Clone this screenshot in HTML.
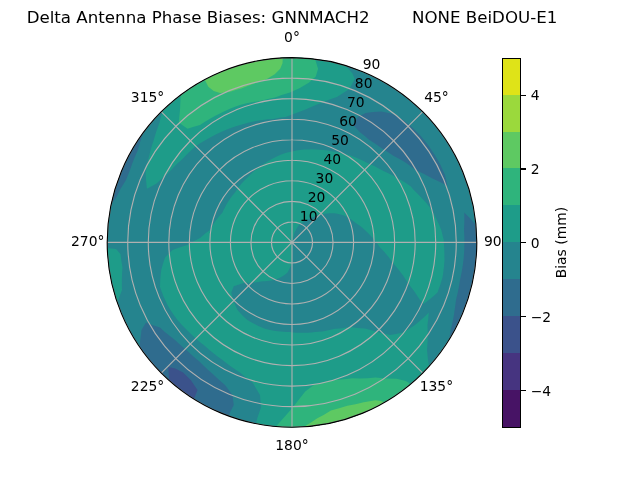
<!DOCTYPE html>
<html><head><meta charset="utf-8"><title>Delta Antenna Phase Biases</title>
<style>html,body{margin:0;padding:0;background:#fff;overflow:hidden}svg{display:block}</style></head>
<body>
<svg width="640" height="480" viewBox="0 0 460.8 345.6" version="1.1">
 <defs>
  <style type="text/css">*{stroke-linejoin: round; stroke-linecap: butt}</style>
 </defs>
 <g id="figure_1">
  <g id="patch_1">
   <path d="M 0 345.6 
L 460.8 345.6 
L 460.8 0 
L 0 0 
z
" style="fill: #ffffff"/>
  </g>
  <g id="axes_1">
   <g id="patch_2">
    <path d="M 343.296 174.528 
C 343.296 157.055246 339.854248 139.752393 333.167715 123.609673 
C 326.481182 107.466954 316.679903 92.798303 304.3248 80.4432 
C 291.969697 68.088097 277.301046 58.286818 261.158327 51.600285 
C 245.015607 44.913752 227.712754 41.472 210.24 41.472 
C 192.767246 41.472 175.464393 44.913752 159.321673 51.600285 
C 143.178954 58.286818 128.510303 68.088097 116.1552 80.4432 
C 103.800097 92.798303 93.998818 107.466954 87.312285 123.609673 
C 80.625752 139.752393 77.184 157.055246 77.184 174.528 
C 77.184 192.000754 80.625752 209.303607 87.312285 225.446327 
C 93.998818 241.589046 103.800097 256.257697 116.1552 268.6128 
C 128.510303 280.967903 143.178954 290.769182 159.321673 297.455715 
C 175.464393 304.142248 192.767246 307.584 210.24 307.584 
C 227.712754 307.584 245.015607 304.142248 261.158327 297.455715 
C 277.301046 290.769182 291.969697 280.967903 304.3248 268.6128 
C 316.679903 256.257697 326.481182 241.589046 333.167715 225.446327 
C 339.854248 209.303607 343.296 192.000754 343.296 174.528 
M 210.24 174.528 
C 210.24 174.528 210.24 174.528 210.24 174.528 
C 210.24 174.528 210.24 174.528 210.24 174.528 
C 210.24 174.528 210.24 174.528 210.24 174.528 
C 210.24 174.528 210.24 174.528 210.24 174.528 
C 210.24 174.528 210.24 174.528 210.24 174.528 
C 210.24 174.528 210.24 174.528 210.24 174.528 
C 210.24 174.528 210.24 174.528 210.24 174.528 
C 210.24 174.528 210.24 174.528 210.24 174.528 
C 210.24 174.528 210.24 174.528 210.24 174.528 
C 210.24 174.528 210.24 174.528 210.24 174.528 
C 210.24 174.528 210.24 174.528 210.24 174.528 
C 210.24 174.528 210.24 174.528 210.24 174.528 
C 210.24 174.528 210.24 174.528 210.24 174.528 
C 210.24 174.528 210.24 174.528 210.24 174.528 
C 210.24 174.528 210.24 174.528 210.24 174.528 
C 210.24 174.528 210.24 174.528 210.24 174.528 
z
" style="fill: #ffffff"/>
   </g>
   <g id="patch_3">
    <path d="M 210.24 34.08 
L 215.141565 34.165557 
L 220.037157 34.422124 
L 224.920814 34.849389 
L 229.786584 35.44683 
L 234.628539 36.213721 
L 239.440781 37.149126 
L 244.217446 38.251906 
L 248.952715 39.520717 
L 253.640819 40.954014 
L 258.276045 42.550051 
L 262.852747 44.306882 
L 267.365348 46.222368 
L 271.808351 48.294174 
L 276.176342 50.519776 
L 280.464 52.896464 
L 284.666101 55.421341 
L 288.777525 58.091331 
L 292.793263 60.903181 
L 296.708423 63.853466 
L 300.518234 66.93859 
L 304.218055 70.154796 
L 307.803379 73.498164 
L 311.269836 76.964621 
L 314.613204 80.549945 
L 317.82941 84.249766 
L 320.914534 88.059577 
L 323.864819 91.974737 
L 326.676669 95.990475 
L 329.346659 100.101899 
L 331.871536 104.304 
L 334.248224 108.591658 
L 336.473826 112.959649 
L 338.545632 117.402652 
L 340.461118 121.915253 
L 342.217949 126.491955 
L 343.813986 131.127181 
L 345.247283 135.815285 
L 346.516094 140.550554 
L 347.618874 145.327219 
L 348.554279 150.139461 
L 349.32117 154.981416 
L 349.918611 159.847186 
L 350.345876 164.730843 
L 350.602443 169.626435 
L 350.688 174.528 
L 350.602443 179.429565 
L 350.345876 184.325157 
L 349.918611 189.208814 
L 349.32117 194.074584 
L 348.554279 198.916539 
L 347.618874 203.728781 
L 346.516094 208.505446 
L 345.247283 213.240715 
L 343.813986 217.928819 
L 342.217949 222.564045 
L 340.461118 227.140747 
L 338.545632 231.653348 
L 336.473826 236.096351 
L 334.248224 240.464342 
L 331.871536 244.752 
L 329.346659 248.954101 
L 326.676669 253.065525 
L 323.864819 257.081263 
L 320.914534 260.996423 
L 317.82941 264.806234 
L 314.613204 268.506055 
L 311.269836 272.091379 
L 307.803379 275.557836 
L 304.218055 278.901204 
L 300.518234 282.11741 
L 296.708423 285.202534 
L 292.793263 288.152819 
L 288.777525 290.964669 
L 284.666101 293.634659 
L 280.464 296.159536 
L 276.176342 298.536224 
L 271.808351 300.761826 
L 267.365348 302.833632 
L 262.852747 304.749118 
L 258.276045 306.505949 
L 253.640819 308.101986 
L 248.952715 309.535283 
L 244.217446 310.804094 
L 239.440781 311.906874 
L 234.628539 312.842279 
L 229.786584 313.60917 
L 224.920814 314.206611 
L 220.037157 314.633876 
L 215.141565 314.890443 
L 210.24 314.976 
L 205.338435 314.890443 
L 200.442843 314.633876 
L 195.559186 314.206611 
L 190.693416 313.60917 
L 185.851461 312.842279 
L 181.039219 311.906874 
L 176.262554 310.804094 
L 171.527285 309.535283 
L 166.839181 308.101986 
L 162.203955 306.505949 
L 157.627253 304.749118 
L 153.114652 302.833632 
L 148.671649 300.761826 
L 144.303658 298.536224 
L 140.016 296.159536 
L 135.813899 293.634659 
L 131.702475 290.964669 
L 127.686737 288.152819 
L 123.771577 285.202534 
L 119.961766 282.11741 
L 116.261945 278.901204 
L 112.676621 275.557836 
L 109.210164 272.091379 
L 105.866796 268.506055 
L 102.65059 264.806234 
L 99.565466 260.996423 
L 96.615181 257.081263 
L 93.803331 253.065525 
L 91.133341 248.954101 
L 88.608464 244.752 
L 86.231776 240.464342 
L 84.006174 236.096351 
L 81.934368 231.653348 
L 80.018882 227.140747 
L 78.262051 222.564045 
L 76.666014 217.928819 
L 75.232717 213.240715 
L 73.963906 208.505446 
L 72.861126 203.728781 
L 71.925721 198.916539 
L 71.15883 194.074584 
L 70.561389 189.208814 
L 70.134124 184.325157 
L 69.877557 179.429565 
L 69.792 174.528 
L 69.877557 169.626435 
L 70.134124 164.730843 
L 70.561389 159.847186 
L 71.15883 154.981416 
L 71.925721 150.139461 
L 72.861126 145.327219 
L 73.963906 140.550554 
L 75.232717 135.815285 
L 76.666014 131.127181 
L 78.262051 126.491955 
L 80.018882 121.915253 
L 81.934368 117.402652 
L 84.006174 112.959649 
L 86.231776 108.591658 
L 88.608464 104.304 
L 91.133341 100.101899 
L 93.803331 95.990475 
L 96.615181 91.974737 
L 99.565466 88.059577 
L 102.65059 84.249766 
L 105.866796 80.549945 
L 109.210164 76.964621 
L 112.676621 73.498164 
L 116.261945 70.154796 
L 119.961766 66.93859 
L 123.771577 63.853466 
L 127.686737 60.903181 
L 131.702475 58.091331 
L 135.813899 55.421341 
L 140.016 52.896464 
L 144.303658 50.519776 
L 148.671649 48.294174 
L 153.114652 46.222368 
L 157.627253 44.306882 
L 162.203955 42.550051 
L 166.839181 40.954014 
L 171.527285 39.520717 
L 176.262554 38.251906 
L 181.039219 37.149126 
L 185.851461 36.213721 
L 190.693416 35.44683 
L 195.559186 34.849389 
L 200.442843 34.422124 
L 205.338435 34.165557 
L 210.24 34.08 
z
" clip-path="url(#p4fdef0c23c)" style="fill: #25848e"/>
   </g>
   <g id="patch_4">
    <path d="M 117.022953 79.583378 
L 114.84 88.2 
L 112.578409 94.494669 
L 110.7 100.8 
L 109.252939 105.296912 
L 108 109.8 
L 106.2 117 
L 104.832 124.2 
L 105.12 129.6 
L 105.768 135.9 
L 112.5 132.3 
L 116.050838 129.038696 
L 119.7 126 
L 124.2 121.32 
L 127.731155 117.792029 
L 131.4 114.48 
L 134.284422 111.414324 
L 137.286537 108.484842 
L 140.4 105.696 
L 144.066847 103.226374 
L 147.814012 100.945639 
L 151.632 98.856 
L 155.33031 96.877967 
L 159.08911 95.07747 
L 162.9 93.456 
L 166.62173 92.015007 
L 170.380257 90.742834 
L 174.168 89.64 
L 177.887878 88.565912 
L 181.634215 87.653804 
L 185.4 86.904 
L 189.142072 86.337278 
L 192.888311 85.929489 
L 196.632 85.68 
L 201.107269 84.847033 
L 205.632 84.24 
L 208.970069 82.917479 
L 212.4 81.72 
L 216.154718 80.202837 
L 220.032 78.84 
L 223.660753 77.162379 
L 227.418551 75.624059 
L 231.3 74.232 
L 236.802525 71.849225 
L 242.568 69.768 
L 251.568 64.08 
L 255.456 56.808 
L 253.8 52.848 
L 248.777241 47.175025 
L 250.918199 40.09986 
L 246.098473 38.734736 
L 241.233131 37.542356 
L 236.328362 36.524239 
L 231.390406 35.681678 
L 226.425544 35.015746 
L 221.440092 34.527291 
L 216.440392 34.216932 
L 211.432804 34.085065 
L 206.4237 34.131858 
L 201.419449 34.357252 
L 196.42642 34.760959 
L 191.450963 35.342466 
L 186.499408 36.101034 
L 181.578054 37.035696 
L 176.693162 38.145265 
L 171.850944 39.428329 
L 167.057562 40.883255 
L 162.319114 42.508193 
L 157.641626 44.301076 
L 153.031049 46.259623 
L 148.493249 48.381341 
L 144.033998 50.663534 
L 139.658969 53.103296 
L 135.373727 55.697525 
L 131.183724 58.44292 
L 127.094289 61.335988 
L 123.110626 64.373051 
L 119.237801 67.550243 
L 115.480742 70.863523 
L 111.844228 74.308677 
z
" clip-path="url(#p4fdef0c23c)" style="fill: #1e9c89"/>
   </g>
   <g id="patch_5">
    <path d="M 305.1 218.7 
L 307.8 216.72 
L 311.442996 213.769115 
L 315 210.6 
L 316.936717 205.251936 
L 318.6 199.8 
L 319.241562 195.610072 
L 319.721559 191.408 
L 320.04 187.2 
L 319.896 180 
L 319.5 172.8 
L 317.7 165.6 
L 315.977473 161.488647 
L 314.1 157.5 
L 311.930293 153.373302 
L 309.6 149.4 
L 306.515642 145.690535 
L 303.3 142.2 
L 300.63861 139.425459 
L 297.9 136.8 
L 295.632 134.1 
L 291.135563 131.100155 
L 286.56 128.448 
L 282.873393 126.348186 
L 279.149182 124.476427 
L 275.4 122.832 
L 272.630106 121.230164 
L 269.830887 119.760275 
L 267.008235 118.422311 
L 264.168 117.216 
L 261.391487 115.763619 
L 258.58417 114.439416 
L 255.751777 113.243567 
L 252.9 112.176 
L 250.085874 111.291009 
L 247.266371 110.528634 
L 244.446702 109.887996 
L 241.632 109.368 
L 238.812217 108.8116 
L 235.996962 108.374972 
L 233.191248 108.056909 
L 230.4 107.856 
L 227.476105 107.634889 
L 224.568769 107.54061 
L 221.68344 107.571403 
L 218.825449 107.725272 
L 216 108 
L 213.499339 108.374445 
L 211.034461 108.842092 
L 208.608811 109.400799 
L 206.225724 110.048298 
L 203.888419 110.782199 
L 201.6 111.6 
L 199.330946 112.609946 
L 197.125924 113.700538 
L 194.987751 114.868376 
L 192.919079 116.109968 
L 190.922391 117.421731 
L 189 118.8 
L 187.011899 120.138767 
L 185.096077 121.54691 
L 183.254885 123.020821 
L 181.490501 124.556817 
L 179.804929 126.151148 
L 178.2 127.8 
L 176.727043 129.219764 
L 175.314436 130.684772 
L 173.963519 132.192531 
L 172.675531 133.740511 
L 171.451609 135.326149 
L 170.292788 136.946851 
L 169.2 138.6 
L 167.833766 140.237218 
L 166.532784 141.92632 
L 165.299023 143.664707 
L 164.134347 145.449707 
L 163.040513 147.278576 
L 162.019171 149.148505 
L 161.071859 151.056623 
L 160.2 153 
L 158.748187 154.575146 
L 157.34556 156.228068 
L 155.995877 157.957242 
L 154.702853 159.760972 
L 153.470146 161.637391 
L 152.301353 163.584468 
L 151.2 165.6 
L 147.534676 168.303862 
L 144 171.36 
L 139.455147 173.716968 
L 135 176.4 
L 129.580276 178.095 
L 124.2 180 
L 118.8 185.4 
L 117.341553 189.824021 
L 116.1 194.4 
L 115.626335 198.41516 
L 115.324824 202.497629 
L 115.2 206.64 
L 116.378877 209.948754 
L 117.672911 213.214334 
L 119.080524 216.432732 
L 120.6 219.6 
L 122.848827 223.312024 
L 125.25059 226.914112 
L 127.8 230.4 
L 130.675039 233.665496 
L 133.67739 236.787117 
L 136.8 239.76 
L 139.377927 242.254356 
L 142.039875 244.647651 
L 144.781908 246.937083 
L 147.6 249.12 
L 150.579841 251.823771 
L 153.676341 254.40835 
L 156.884725 256.868706 
L 160.2 259.2 
L 163.185902 261.612893 
L 166.283714 263.920536 
L 169.489724 266.117878 
L 172.8 268.2 
L 175.671622 270.689647 
L 178.672511 273.091656 
L 181.8 275.4 
L 187.2 284.4 
L 187.92 293.4 
L 185.4 300.6 
L 184.298026 305.030541 
L 182.856805 312.280682 
L 187.773304 313.167418 
L 192.71823 313.878738 
L 197.685325 314.413742 
L 202.668305 314.771753 
L 207.660866 314.952317 
L 212.656689 314.955206 
L 217.649455 314.780418 
L 222.632846 314.428172 
L 227.600557 313.898914 
L 232.546302 313.193315 
L 237.463823 312.312267 
L 242.346899 311.256884 
L 247.189351 310.028502 
L 251.985053 308.628676 
L 256.727935 307.059176 
L 261.411997 305.321988 
L 266.031314 303.419311 
L 270.580039 301.353551 
L 275.052417 299.127323 
L 279.442791 296.743443 
L 283.745604 294.204927 
L 287.955413 291.514988 
L 292.066891 288.677028 
L 296.074835 285.69464 
L 299.974176 282.571595 
L 303.759978 279.311846 
L 307.427453 275.919517 
L 310.971959 272.398901 
L 314.389012 268.754451 
L 308.907485 263.795164 
L 308.16 259.2 
L 307.44 252 
L 307.89284 245.893149 
L 308.00971 239.887411 
L 307.8 234 
L 308.349275 229.479215 
L 308.7 225 
L 305.492807 228.173753 
L 302.189945 231.174604 
L 298.8 234 
L 294.334835 236.841713 
L 289.8 239.4 
L 285.282828 240.42043 
L 280.8 241.2 
L 271.8 239.04 
L 262.8 236.52 
L 257.310765 236.175677 
L 252 235.44 
L 248.362726 236.061988 
L 244.759087 236.48048 
L 241.2 236.7 
L 238.800805 237.316453 
L 236.396749 237.841627 
L 233.991266 238.275952 
L 231.587751 238.619981 
L 229.189559 238.874395 
L 226.8 239.04 
L 224.204158 239.347955 
L 221.609639 239.552026 
L 219.020578 239.65279 
L 216.44107 239.650988 
L 213.875156 239.547522 
L 211.326824 239.343454 
L 208.8 239.04 
L 206.533137 239.026177 
L 204.265476 238.93263 
L 201.999823 238.759286 
L 199.738989 238.506172 
L 197.485786 238.173413 
L 195.24302 237.761232 
L 193.013494 237.269954 
L 190.8 236.7 
L 188.598978 235.838883 
L 186.434783 234.90007 
L 184.31015 233.885097 
L 182.22775 232.795595 
L 180.190188 231.633291 
L 178.2 230.4 
L 176.271345 228.692838 
L 174.427112 226.921115 
L 172.669369 225.08882 
L 171 223.2 
L 169.827254 220.693468 
L 168.791927 218.173284 
L 167.893139 215.646416 
L 167.129679 213.119735 
L 166.5 210.6 
L 168.3 206.1 
L 176.4 203.4 
L 178.605927 203.539356 
L 180.776913 203.559074 
L 182.907269 203.461889 
L 184.991456 203.250787 
L 187.024099 202.929002 
L 189 202.5 
L 190.663067 202.485251 
L 192.292581 202.385077 
L 193.884475 202.202074 
L 195.434836 201.939023 
L 196.939906 201.598883 
L 198.396099 201.18478 
L 199.8 200.7 
L 201.165002 200.098724 
L 202.467675 199.432599 
L 203.705105 198.705554 
L 204.87459 197.921642 
L 205.973643 197.085032 
L 207 196.2 
L 208.022705 194.367119 
L 208.904681 192.490863 
L 209.644218 190.57916 
L 210.24 188.64 
L 210.24 183.936 
L 210.24 179.232 
L 210.24 174.528 
L 212.04 167.616 
L 212.844207 165.880074 
L 213.781201 164.197568 
L 214.848 162.576 
L 215.853952 161.625499 
L 216.9479 160.740892 
L 218.12598 159.927892 
L 219.384 159.192 
L 220.686007 158.372257 
L 222.058606 157.628367 
L 223.497951 156.964339 
L 225 156.384 
L 226.852507 155.64444 
L 228.782327 155.022776 
L 230.783047 154.523805 
L 232.848 154.152 
L 235.417711 153.768757 
L 238.061645 153.574876 
L 240.768 153.576 
L 242.936709 153.91674 
L 245.123232 154.396131 
L 247.32 155.016 
L 249.670756 156.078682 
L 252 157.32 
L 253.821865 158.697811 
L 255.6 160.2 
L 257.473397 161.413035 
L 259.315822 162.740423 
L 261.121539 164.181425 
L 262.884829 165.735039 
L 264.6 167.4 
L 266.550575 169.291438 
L 268.433367 171.319857 
L 270.240822 173.482745 
L 271.965481 175.777213 
L 273.6 178.2 
L 276.784306 181.500019 
L 279.791393 185.103247 
L 282.6 189 
L 286.471328 193.424487 
L 290.08017 198.229542 
L 293.4 203.4 
L 298.093103 209.465942 
L 302.4 216 
z
" clip-path="url(#p4fdef0c23c)" style="fill: #1e9c89"/>
   </g>
   <g id="patch_6">
    <path d="M 77.245181 178.562512 
L 83.52 179.28 
L 86.76 182.88 
L 87.383837 187.758174 
L 88.2 192.6 
L 87.842987 197.942044 
L 87.721484 203.345526 
L 87.84 208.8 
L 84.440094 217.867159 
L 85.040115 219.571177 
L 78.084565 222.073576 
L 76.501625 217.419582 
L 75.082525 212.713044 
L 73.829002 207.959725 
L 72.742592 203.165451 
L 71.824627 198.336093 
L 71.076231 193.477569 
L 70.498321 188.59583 
L 70.091605 183.696857 
L 69.85658 178.786652 
z
" clip-path="url(#p4fdef0c23c)" style="fill: #1e9c89"/>
   </g>
   <g id="patch_7">
    <path d="M 130.110175 68.306014 
L 129.6 79.2 
L 128.7 88.2 
L 135 92.7 
L 139.501717 91.237305 
L 144 90 
L 147.560022 87.675516 
L 151.2 85.5 
L 154.73524 83.49946 
L 158.337076 81.638738 
L 162 79.92 
L 165.551184 78.346477 
L 169.152841 76.905949 
L 172.8 75.6 
L 177.574253 74.410953 
L 182.377894 73.450903 
L 187.2 72.72 
L 190.761989 71.754625 
L 194.36345 70.914096 
L 198 70.2 
L 203.314219 68.226798 
L 208.8 66.528 
L 215.568 63.576 
L 222.3 59.616 
L 227.376 55.152 
L 229.032 49.5 
L 226.796723 42.50613 
L 227.716541 35.171582 
L 222.822717 34.644778 
L 217.913439 34.289778 
L 212.994737 34.107018 
L 208.072651 34.096724 
L 203.153228 34.258907 
L 198.242508 34.593369 
L 193.346523 35.099699 
L 188.471288 35.777274 
L 183.622788 36.625264 
L 178.80698 37.642625 
L 174.029777 38.828109 
L 169.297049 40.180259 
L 164.614606 41.697416 
L 159.9882 43.377715 
L 155.423514 45.219093 
L 150.926153 47.219288 
L 146.501642 49.375843 
L 142.155414 51.686111 
L 137.892807 54.147252 
L 133.719057 56.756246 
L 129.639291 59.509887 
L 125.658518 62.404793 
z
" clip-path="url(#p4fdef0c23c)" style="fill: #2fb47c"/>
   </g>
   <g id="patch_8">
    <path d="M 198.654412 307.078644 
L 204.48 300.528 
L 208.903459 295.562557 
L 212.976 290.448 
L 219.744 281.952 
L 226.44 276.912 
L 230.429627 275.938115 
L 234.367626 274.809263 
L 238.248 273.528 
L 242.008038 273.456675 
L 245.797036 273.242266 
L 249.609544 272.882672 
L 253.44 272.376 
L 258.984137 272.518154 
L 264.629709 272.353116 
L 270.36 271.872 
L 277.848544 272.544967 
L 285.552 272.7 
L 292.248 274.392 
L 294.336 275.544 
L 297.217818 279.005636 
L 300.099636 282.467272 
L 296.209806 285.590294 
L 292.211523 288.573211 
L 288.109833 291.412258 
L 283.90991 294.103855 
L 279.617051 296.644606 
L 275.236673 299.031306 
L 270.7743 301.260944 
L 266.235564 303.330708 
L 261.626188 305.237986 
L 256.951989 306.980372 
L 252.218862 308.555668 
L 247.432778 309.961888 
L 242.599775 311.197256 
L 237.72595 312.260216 
L 232.817451 313.149425 
L 227.880471 313.863762 
L 222.921237 314.402325 
L 217.946006 314.764437 
L 212.961053 314.949639 
L 207.972668 314.957697 
L 202.987143 314.788603 
L 198.010768 314.442569 
z
" clip-path="url(#p4fdef0c23c)" style="fill: #2fb47c"/>
   </g>
   <g id="patch_9">
    <path d="M 147.369921 57.262266 
L 149.976 62.424 
L 153.9 65.52 
L 158.4 66.96 
L 165.168 66.168 
L 169.648602 64.77977 
L 174.168 63.576 
L 178.625212 61.794206 
L 183.168 60.192 
L 187.618328 58.41287 
L 192.168 56.808 
L 197.784 53.424 
L 201.744 49.5 
L 203.4 45.576 
L 203.613462 41.637112 
L 203.245322 34.254285 
L 198.080853 34.607323 
L 192.932902 35.150437 
L 187.808461 35.882889 
L 182.714493 36.803684 
L 177.657917 37.911571 
L 172.645603 39.205046 
L 167.684358 40.68235 
L 162.780924 42.341477 
L 157.94196 44.180174 
L 153.174041 46.195942 
L 148.483644 48.386044 
L 143.877139 50.747503 
z
" clip-path="url(#p4fdef0c23c)" style="fill: #5ec962"/>
   </g>
   <g id="patch_10">
    <path d="M 218.875802 307.303457 
L 223.623915 304.430596 
L 228.168 301.392 
L 233.314791 298.541926 
L 238.248 295.488 
L 244.194182 293.94204 
L 250.056 292.104 
L 255.986009 290.99409 
L 261.9 289.584 
L 270.36 288.216 
L 274.536 288.72 
L 276.579444 289.866534 
L 280.264968 296.27423 
L 275.942604 298.660222 
L 271.539048 300.892819 
L 267.059742 302.969261 
L 262.510222 304.886984 
L 257.896109 306.643616 
L 253.223106 308.236987 
L 248.496987 309.665129 
L 243.723592 310.926276 
L 238.90882 312.018871 
L 234.05862 312.941562 
L 229.178987 313.693209 
L 224.27595 314.272885 
L 219.355569 314.679872 
z
" clip-path="url(#p4fdef0c23c)" style="fill: #5ec962"/>
   </g>
   <g id="patch_11">
    <path d="M 254.16 89.784 
L 257.616 84.168 
L 263.232 81.36 
L 268.794727 80.632833 
L 274.5 80.208 
L 282.384 81.9 
L 286.302938 84.067804 
L 290.16 86.4 
L 293.626847 89.139898 
L 297 92.016 
L 302.616 97.632 
L 305.448128 100.963821 
L 308.16 104.4 
L 312.768 111.168 
L 315.073465 115.050106 
L 317.232 119.016 
L 320.4 126 
L 322.2 133.92 
L 316.82358 131.040726 
L 311.4 128.52 
L 305.347427 125.211795 
L 299.232 122.4 
L 295.899364 119.790651 
L 292.5 117.36 
L 288.03095 114.6923 
L 283.5 112.32 
L 280.549473 110.267996 
L 277.54759 108.347667 
L 274.5 106.56 
L 271.569127 104.394587 
L 268.567379 102.353846 
L 265.5 100.44 
L 262.208612 97.558766 
L 258.768 94.824 
z
" clip-path="url(#p4fdef0c23c)" style="fill: #2f6c8e"/>
   </g>
   <g id="patch_12">
    <path d="M 342.705029 162.001416 
L 338.560582 157.349753 
L 334.26 153 
L 334.329984 159.323488 
L 334.08 165.6 
L 334.331533 170.549115 
L 334.385368 175.504082 
L 334.241441 180.457006 
L 333.9 185.4 
L 333.238472 190.840694 
L 332.337807 196.244194 
L 331.2 201.6 
L 330.432538 206.421292 
L 329.47244 211.223863 
L 328.32 216 
L 327.6 221.4 
L 326.823741 226.792382 
L 325.8 232.2 
L 324.36 238.32 
L 323.280833 244.711112 
L 329.560879 248.610174 
L 332.157331 244.254646 
L 334.594864 239.80823 
L 336.870302 235.276722 
L 338.980679 230.666028 
L 340.923244 225.982159 
L 342.695464 221.23122 
L 344.29503 216.419404 
L 345.719856 211.552982 
L 346.968086 206.638299 
L 348.038091 201.681761 
L 348.928479 196.689828 
L 349.638087 191.669007 
L 350.165991 186.625843 
L 350.511503 181.566909 
L 350.674172 176.498801 
L 350.653787 171.428123 
L 350.450373 166.361486 
L 350.064197 161.305494 
z
" clip-path="url(#p4fdef0c23c)" style="fill: #2f6c8e"/>
   </g>
   <g id="patch_13">
    <path d="M 105.12 232.2 
L 101.88 237.6 
L 100.8 246.6 
L 100.682292 250.033017 
L 94.595752 254.227741 
L 97.574983 258.386421 
L 100.70369 262.433844 
L 103.97772 266.364641 
L 107.392731 270.173596 
L 110.944192 273.855656 
L 114.627391 277.405936 
L 118.437441 280.819725 
L 122.369287 284.092495 
L 126.417713 287.219903 
L 130.577349 290.1978 
L 134.842674 293.022236 
L 139.208031 295.689463 
L 143.667627 298.195942 
L 148.215547 300.538348 
L 152.845756 302.713574 
L 157.55211 304.718733 
L 162.328367 306.551165 
L 164.850032 299.602578 
L 165.6 297 
L 168.3 291.6 
L 167.4 284.4 
L 162 277.2 
L 158.876088 274.590006 
L 155.875234 271.888207 
L 153 269.1 
L 149.876309 266.379028 
L 146.875258 263.557249 
L 144 260.64 
L 140.902236 258.11007 
L 137.900905 255.468847 
L 135 252.72 
L 131.914359 250.200461 
L 128.912772 247.55953 
L 126 244.8 
L 122.306124 241.984703 
L 118.703109 238.983775 
L 115.2 235.8 
L 110.159036 234.141188 
z
" clip-path="url(#p4fdef0c23c)" style="fill: #2f6c8e"/>
   </g>
   <g id="patch_14">
    <path d="M 103.389671 95.237986 
L 100.991754 101.963131 
L 99 108.72 
L 97.01835 113.227173 
L 95.217909 117.789585 
L 93.6 122.4 
L 90.72 129.6 
L 86.832 135.9 
L 83.7 142.2 
L 80.090279 146.870284 
L 72.859739 145.333744 
L 73.991027 140.441963 
L 75.29644 135.593743 
L 76.774311 130.795282 
L 78.422751 126.052711 
L 80.239654 121.372091 
L 82.222696 116.759404 
L 84.369345 112.220546 
L 86.676856 107.761316 
L 89.14228 103.387414 
L 91.762467 99.10443 
L 94.534069 94.917836 
L 97.453542 90.832985 
z
" clip-path="url(#p4fdef0c23c)" style="fill: #2f6c8e"/>
   </g>
   <g id="patch_15">
    <path d="M 121.7932 273.931535 
L 121.176 264.24 
L 126.216 265.392 
L 131.832 268.2 
L 137.448 273.816 
L 142.2 280.8 
L 139.687774 287.338827 
L 139.655731 287.31878 
L 135.734383 293.584935 
L 130.802205 290.352338 
L 126.010074 286.915545 
L 121.36644 283.280614 
L 116.879489 279.453953 
z
" clip-path="url(#p4fdef0c23c)" style="fill: #3b528b"/>
   </g>
   <g id="matplotlib.axis_1">
    <g id="xtick_1">
     <g id="line2d_1">
      <path d="M 210.24 174.528 
L 210.24 41.472 
" clip-path="url(#p4fdef0c23c)" style="fill: none; stroke: #b0b0b0; stroke-width: 0.8; stroke-linecap: square"/>
     </g>
     <g id="text_1">
      <text style="font-size: 10px; font-family: 'DejaVu Sans', 'Liberation Sans', sans-serif; white-space: pre; text-anchor: middle" x="210.24" y="30.231375" transform="rotate(0 210.24 30.231375)">0°</text>
     </g>
    </g>
    <g id="xtick_2">
     <g id="line2d_2">
      <path d="M 210.24 174.528 
L 304.3248 80.4432 
" clip-path="url(#p4fdef0c23c)" style="fill: none; stroke: #b0b0b0; stroke-width: 0.8; stroke-linecap: square"/>
     </g>
     <g id="text_2">
      <text style="font-size: 10px; font-family: 'DejaVu Sans', 'Liberation Sans', sans-serif; white-space: pre; text-anchor: middle" x="314.224295" y="73.30308" transform="rotate(0 314.224295 73.30308)">45°</text>
     </g>
    </g>
    <g id="xtick_3">
     <g id="line2d_3">
      <path d="M 210.24 174.528 
L 343.296 174.528 
" clip-path="url(#p4fdef0c23c)" style="fill: none; stroke: #b0b0b0; stroke-width: 0.8; stroke-linecap: square"/>
     </g>
     <g id="text_3">
      <text style="font-size: 10px; font-family: 'DejaVu Sans', 'Liberation Sans', sans-serif; white-space: pre; text-anchor: middle" x="357.296" y="177.287375" transform="rotate(0 357.296 177.287375)">90°</text>
     </g>
    </g>
    <g id="xtick_4">
     <g id="line2d_4">
      <path d="M 210.24 174.528 
L 304.3248 268.6128 
" clip-path="url(#p4fdef0c23c)" style="fill: none; stroke: #b0b0b0; stroke-width: 0.8; stroke-linecap: square"/>
     </g>
     <g id="text_4">
      <text style="font-size: 10px; font-family: 'DejaVu Sans', 'Liberation Sans', sans-serif; white-space: pre; text-anchor: middle" x="314.224295" y="281.27167" transform="rotate(0 314.224295 281.27167)">135°</text>
     </g>
    </g>
    <g id="xtick_5">
     <g id="line2d_5">
      <path d="M 210.24 174.528 
L 210.24 307.584 
" clip-path="url(#p4fdef0c23c)" style="fill: none; stroke: #b0b0b0; stroke-width: 0.8; stroke-linecap: square"/>
     </g>
     <g id="text_5">
      <text style="font-size: 10px; font-family: 'DejaVu Sans', 'Liberation Sans', sans-serif; white-space: pre; text-anchor: middle" x="210.24" y="324.343375" transform="rotate(0 210.24 324.343375)">180°</text>
     </g>
    </g>
    <g id="xtick_6">
     <g id="line2d_6">
      <path d="M 210.24 174.528 
L 116.1552 268.6128 
" clip-path="url(#p4fdef0c23c)" style="fill: none; stroke: #b0b0b0; stroke-width: 0.8; stroke-linecap: square"/>
     </g>
     <g id="text_6">
      <text style="font-size: 10px; font-family: 'DejaVu Sans', 'Liberation Sans', sans-serif; white-space: pre; text-anchor: middle" x="106.255705" y="281.27167" transform="rotate(0 106.255705 281.27167)">225°</text>
     </g>
    </g>
    <g id="xtick_7">
     <g id="line2d_7">
      <path d="M 210.24 174.528 
L 77.184 174.528 
" clip-path="url(#p4fdef0c23c)" style="fill: none; stroke: #b0b0b0; stroke-width: 0.8; stroke-linecap: square"/>
     </g>
     <g id="text_7">
      <text style="font-size: 10px; font-family: 'DejaVu Sans', 'Liberation Sans', sans-serif; white-space: pre; text-anchor: middle" x="63.184" y="177.287375" transform="rotate(0 63.184 177.287375)">270°</text>
     </g>
    </g>
    <g id="xtick_8">
     <g id="line2d_8">
      <path d="M 210.24 174.528 
L 116.1552 80.4432 
" clip-path="url(#p4fdef0c23c)" style="fill: none; stroke: #b0b0b0; stroke-width: 0.8; stroke-linecap: square"/>
     </g>
     <g id="text_8">
      <text style="font-size: 10px; font-family: 'DejaVu Sans', 'Liberation Sans', sans-serif; white-space: pre; text-anchor: middle" x="106.255705" y="73.30308" transform="rotate(0 106.255705 73.30308)">315°</text>
     </g>
    </g>
   </g>
   <g id="matplotlib.axis_2">
    <g id="ytick_1">
     <g id="line2d_9">
      <path d="M 210.24 159.744 
C 212.181417 159.744 214.103956 160.126417 215.897592 160.869365 
C 217.691227 161.612313 219.321077 162.701344 220.693867 164.074133 
C 222.066656 165.446923 223.155687 167.076773 223.898635 168.870408 
C 224.641583 170.664044 225.024 172.586583 225.024 174.528 
C 225.024 176.469417 224.641583 178.391956 223.898635 180.185592 
C 223.155687 181.979227 222.066656 183.609077 220.693867 184.981867 
C 219.321077 186.354656 217.691227 187.443687 215.897592 188.186635 
C 214.103956 188.929583 212.181417 189.312 210.24 189.312 
C 208.298583 189.312 206.376044 188.929583 204.582408 188.186635 
C 202.788773 187.443687 201.158923 186.354656 199.786133 184.981867 
C 198.413344 183.609077 197.324313 181.979227 196.581365 180.185592 
C 195.838417 178.391956 195.456 176.469417 195.456 174.528 
C 195.456 172.586583 195.838417 170.664044 196.581365 168.870408 
C 197.324313 167.076773 198.413344 165.446923 199.786133 164.074133 
C 201.158923 162.701344 202.788773 161.612313 204.582408 160.869365 
C 206.376044 160.126417 208.298583 159.744 210.24 159.744 
" clip-path="url(#p4fdef0c23c)" style="fill: none; stroke: #b0b0b0; stroke-width: 0.8; stroke-linecap: square"/>
     </g>
     <g id="text_9">
      <text style="font-size: 10px; font-family: 'DejaVu Sans', 'Liberation Sans', sans-serif; white-space: pre; text-anchor: start" x="215.897592" y="158.789677" transform="rotate(0 215.897592 158.789677)">10</text>
     </g>
    </g>
    <g id="ytick_2">
     <g id="line2d_10">
      <path d="M 210.24 144.96 
C 214.122834 144.96 217.967913 145.724834 221.555184 147.21073 
C 225.142455 148.696626 228.402155 150.874688 231.147733 153.620267 
C 233.893312 156.365845 236.071374 159.625545 237.55727 163.212816 
C 239.043166 166.800087 239.808 170.645166 239.808 174.528 
C 239.808 178.410834 239.043166 182.255913 237.55727 185.843184 
C 236.071374 189.430455 233.893312 192.690155 231.147733 195.435733 
C 228.402155 198.181312 225.142455 200.359374 221.555184 201.84527 
C 217.967913 203.331166 214.122834 204.096 210.24 204.096 
C 206.357166 204.096 202.512087 203.331166 198.924816 201.84527 
C 195.337545 200.359374 192.077845 198.181312 189.332267 195.435733 
C 186.586688 192.690155 184.408626 189.430455 182.92273 185.843184 
C 181.436834 182.255913 180.672 178.410834 180.672 174.528 
C 180.672 170.645166 181.436834 166.800087 182.92273 163.212816 
C 184.408626 159.625545 186.586688 156.365845 189.332267 153.620267 
C 192.077845 150.874688 195.337545 148.696626 198.924816 147.21073 
C 202.512087 145.724834 206.357166 144.96 210.24 144.96 
" clip-path="url(#p4fdef0c23c)" style="fill: none; stroke: #b0b0b0; stroke-width: 0.8; stroke-linecap: square"/>
     </g>
     <g id="text_10">
      <text style="font-size: 10px; font-family: 'DejaVu Sans', 'Liberation Sans', sans-serif; white-space: pre; text-anchor: start" x="221.555184" y="145.131042" transform="rotate(0 221.555184 145.131042)">20</text>
     </g>
    </g>
    <g id="ytick_3">
     <g id="line2d_11">
      <path d="M 210.24 130.176 
C 216.064251 130.176 221.831869 131.323251 227.212776 133.552095 
C 232.593682 135.780939 237.483232 139.048032 241.6016 143.1664 
C 245.719968 147.284768 248.987061 152.174318 251.215905 157.555224 
C 253.444749 162.936131 254.592 168.703749 254.592 174.528 
C 254.592 180.352251 253.444749 186.119869 251.215905 191.500776 
C 248.987061 196.881682 245.719968 201.771232 241.6016 205.8896 
C 237.483232 210.007968 232.593682 213.275061 227.212776 215.503905 
C 221.831869 217.732749 216.064251 218.88 210.24 218.88 
C 204.415749 218.88 198.648131 217.732749 193.267224 215.503905 
C 187.886318 213.275061 182.996768 210.007968 178.8784 205.8896 
C 174.760032 201.771232 171.492939 196.881682 169.264095 191.500776 
C 167.035251 186.119869 165.888 180.352251 165.888 174.528 
C 165.888 168.703749 167.035251 162.936131 169.264095 157.555224 
C 171.492939 152.174318 174.760032 147.284768 178.8784 143.1664 
C 182.996768 139.048032 187.886318 135.780939 193.267224 133.552095 
C 198.648131 131.323251 204.415749 130.176 210.24 130.176 
" clip-path="url(#p4fdef0c23c)" style="fill: none; stroke: #b0b0b0; stroke-width: 0.8; stroke-linecap: square"/>
     </g>
     <g id="text_11">
      <text style="font-size: 10px; font-family: 'DejaVu Sans', 'Liberation Sans', sans-serif; white-space: pre; text-anchor: start" x="227.212776" y="131.472407" transform="rotate(0 227.212776 131.472407)">30</text>
     </g>
    </g>
    <g id="ytick_4">
     <g id="line2d_12">
      <path d="M 210.24 115.392 
C 218.005668 115.392 225.695825 116.921667 232.870367 119.89346 
C 240.04491 122.865253 246.56431 127.221377 252.055467 132.712533 
C 257.546623 138.20369 261.902747 144.72309 264.87454 151.897633 
C 267.846333 159.072175 269.376 166.762332 269.376 174.528 
C 269.376 182.293668 267.846333 189.983825 264.87454 197.158367 
C 261.902747 204.33291 257.546623 210.85231 252.055467 216.343467 
C 246.56431 221.834623 240.04491 226.190747 232.870367 229.16254 
C 225.695825 232.134333 218.005668 233.664 210.24 233.664 
C 202.474332 233.664 194.784175 232.134333 187.609633 229.16254 
C 180.43509 226.190747 173.91569 221.834623 168.424533 216.343467 
C 162.933377 210.85231 158.577253 204.33291 155.60546 197.158367 
C 152.633667 189.983825 151.104 182.293668 151.104 174.528 
C 151.104 166.762332 152.633667 159.072175 155.60546 151.897633 
C 158.577253 144.72309 162.933377 138.20369 168.424533 132.712533 
C 173.91569 127.221377 180.43509 122.865253 187.609633 119.89346 
C 194.784175 116.921667 202.474332 115.392 210.24 115.392 
" clip-path="url(#p4fdef0c23c)" style="fill: none; stroke: #b0b0b0; stroke-width: 0.8; stroke-linecap: square"/>
     </g>
     <g id="text_12">
      <text style="font-size: 10px; font-family: 'DejaVu Sans', 'Liberation Sans', sans-serif; white-space: pre; text-anchor: start" x="232.870367" y="117.813772" transform="rotate(0 232.870367 117.813772)">40</text>
     </g>
    </g>
    <g id="ytick_5">
     <g id="line2d_13">
      <path d="M 210.24 100.608 
C 219.947085 100.608 229.559782 102.520084 238.527959 106.234825 
C 247.496137 109.949566 255.645387 115.394721 262.509333 122.258667 
C 269.373279 129.122613 274.818434 137.271863 278.533175 146.240041 
C 282.247916 155.208218 284.16 164.820915 284.16 174.528 
C 284.16 184.235085 282.247916 193.847782 278.533175 202.815959 
C 274.818434 211.784137 269.373279 219.933387 262.509333 226.797333 
C 255.645387 233.661279 247.496137 239.106434 238.527959 242.821175 
C 229.559782 246.535916 219.947085 248.448 210.24 248.448 
C 200.532915 248.448 190.920218 246.535916 181.952041 242.821175 
C 172.983863 239.106434 164.834613 233.661279 157.970667 226.797333 
C 151.106721 219.933387 145.661566 211.784137 141.946825 202.815959 
C 138.232084 193.847782 136.32 184.235085 136.32 174.528 
C 136.32 164.820915 138.232084 155.208218 141.946825 146.240041 
C 145.661566 137.271863 151.106721 129.122613 157.970667 122.258667 
C 164.834613 115.394721 172.983863 109.949566 181.952041 106.234825 
C 190.920218 102.520084 200.532915 100.608 210.24 100.608 
" clip-path="url(#p4fdef0c23c)" style="fill: none; stroke: #b0b0b0; stroke-width: 0.8; stroke-linecap: square"/>
     </g>
     <g id="text_13">
      <text style="font-size: 10px; font-family: 'DejaVu Sans', 'Liberation Sans', sans-serif; white-space: pre; text-anchor: start" x="238.527959" y="104.155137" transform="rotate(0 238.527959 104.155137)">50</text>
     </g>
    </g>
    <g id="ytick_6">
     <g id="line2d_14">
      <path d="M 210.24 85.824 
C 221.888503 85.824 233.423738 88.118501 244.185551 92.57619 
C 254.947364 97.033879 264.726465 103.568065 272.9632 111.8048 
C 281.199935 120.041535 287.734121 129.820636 292.19181 140.582449 
C 296.649499 151.344262 298.944 162.879497 298.944 174.528 
C 298.944 186.176503 296.649499 197.711738 292.19181 208.473551 
C 287.734121 219.235364 281.199935 229.014465 272.9632 237.2512 
C 264.726465 245.487935 254.947364 252.022121 244.185551 256.47981 
C 233.423738 260.937499 221.888503 263.232 210.24 263.232 
C 198.591497 263.232 187.056262 260.937499 176.294449 256.47981 
C 165.532636 252.022121 155.753535 245.487935 147.5168 237.2512 
C 139.280065 229.014465 132.745879 219.235364 128.28819 208.473551 
C 123.830501 197.711738 121.536 186.176503 121.536 174.528 
C 121.536 162.879497 123.830501 151.344262 128.28819 140.582449 
C 132.745879 129.820636 139.280065 120.041535 147.5168 111.8048 
C 155.753535 103.568065 165.532636 97.033879 176.294449 92.57619 
C 187.056262 88.118501 198.591497 85.824 210.24 85.824 
" clip-path="url(#p4fdef0c23c)" style="fill: none; stroke: #b0b0b0; stroke-width: 0.8; stroke-linecap: square"/>
     </g>
     <g id="text_14">
      <text style="font-size: 10px; font-family: 'DejaVu Sans', 'Liberation Sans', sans-serif; white-space: pre; text-anchor: start" x="244.185551" y="90.496502" transform="rotate(0 244.185551 90.496502)">60</text>
     </g>
    </g>
    <g id="ytick_7">
     <g id="line2d_15">
      <path d="M 210.24 71.04 
C 223.82992 71.04 237.287694 73.716918 249.843143 78.917555 
C 262.398592 84.118192 273.807542 91.741409 283.417067 101.350933 
C 293.026591 110.960458 300.649808 122.369408 305.850445 134.924857 
C 311.051082 147.480306 313.728 160.93808 313.728 174.528 
C 313.728 188.11792 311.051082 201.575694 305.850445 214.131143 
C 300.649808 226.686592 293.026591 238.095542 283.417067 247.705067 
C 273.807542 257.314591 262.398592 264.937808 249.843143 270.138445 
C 237.287694 275.339082 223.82992 278.016 210.24 278.016 
C 196.65008 278.016 183.192306 275.339082 170.636857 270.138445 
C 158.081408 264.937808 146.672458 257.314591 137.062933 247.705067 
C 127.453409 238.095542 119.830192 226.686592 114.629555 214.131143 
C 109.428918 201.575694 106.752 188.11792 106.752 174.528 
C 106.752 160.93808 109.428918 147.480306 114.629555 134.924857 
C 119.830192 122.369408 127.453409 110.960458 137.062933 101.350933 
C 146.672458 91.741409 158.081408 84.118192 170.636857 78.917555 
C 183.192306 73.716918 196.65008 71.04 210.24 71.04 
" clip-path="url(#p4fdef0c23c)" style="fill: none; stroke: #b0b0b0; stroke-width: 0.8; stroke-linecap: square"/>
     </g>
     <g id="text_15">
      <text style="font-size: 10px; font-family: 'DejaVu Sans', 'Liberation Sans', sans-serif; white-space: pre; text-anchor: start" x="249.843143" y="76.837867" transform="rotate(0 249.843143 76.837867)">70</text>
     </g>
    </g>
    <g id="ytick_8">
     <g id="line2d_16">
      <path d="M 210.24 56.256 
C 225.771337 56.256 241.151651 59.315335 255.500735 65.25892 
C 269.849819 71.202505 282.88862 79.914753 293.870933 90.897067 
C 304.853247 101.87938 313.565495 114.918181 319.50908 129.267265 
C 325.452665 143.616349 328.512 158.996663 328.512 174.528 
C 328.512 190.059337 325.452665 205.439651 319.50908 219.788735 
C 313.565495 234.137819 304.853247 247.17662 293.870933 258.158933 
C 282.88862 269.141247 269.849819 277.853495 255.500735 283.79708 
C 241.151651 289.740665 225.771337 292.8 210.24 292.8 
C 194.708663 292.8 179.328349 289.740665 164.979265 283.79708 
C 150.630181 277.853495 137.59138 269.141247 126.609067 258.158933 
C 115.626753 247.17662 106.914505 234.137819 100.97092 219.788735 
C 95.027335 205.439651 91.968 190.059337 91.968 174.528 
C 91.968 158.996663 95.027335 143.616349 100.97092 129.267265 
C 106.914505 114.918181 115.626753 101.87938 126.609067 90.897067 
C 137.59138 79.914753 150.630181 71.202505 164.979265 65.25892 
C 179.328349 59.315335 194.708663 56.256 210.24 56.256 
" clip-path="url(#p4fdef0c23c)" style="fill: none; stroke: #b0b0b0; stroke-width: 0.8; stroke-linecap: square"/>
     </g>
     <g id="text_16">
      <text style="font-size: 10px; font-family: 'DejaVu Sans', 'Liberation Sans', sans-serif; white-space: pre; text-anchor: start" x="255.500735" y="63.179232" transform="rotate(0 255.500735 63.179232)">80</text>
     </g>
    </g>
    <g id="ytick_9">
     <g id="line2d_17">
      <path d="M 210.24 41.472 
C 227.712754 41.472 245.015607 44.913752 261.158327 51.600285 
C 277.301046 58.286818 291.969697 68.088097 304.3248 80.4432 
C 316.679903 92.798303 326.481182 107.466954 333.167715 123.609673 
C 339.854248 139.752393 343.296 157.055246 343.296 174.528 
C 343.296 192.000754 339.854248 209.303607 333.167715 225.446327 
C 326.481182 241.589046 316.679903 256.257697 304.3248 268.6128 
C 291.969697 280.967903 277.301046 290.769182 261.158327 297.455715 
C 245.015607 304.142248 227.712754 307.584 210.24 307.584 
C 192.767246 307.584 175.464393 304.142248 159.321673 297.455715 
C 143.178954 290.769182 128.510303 280.967903 116.1552 268.6128 
C 103.800097 256.257697 93.998818 241.589046 87.312285 225.446327 
C 80.625752 209.303607 77.184 192.000754 77.184 174.528 
C 77.184 157.055246 80.625752 139.752393 87.312285 123.609673 
C 93.998818 107.466954 103.800097 92.798303 116.1552 80.4432 
C 128.510303 68.088097 143.178954 58.286818 159.321673 51.600285 
C 175.464393 44.913752 192.767246 41.472 210.24 41.472 
" clip-path="url(#p4fdef0c23c)" style="fill: none; stroke: #b0b0b0; stroke-width: 0.8; stroke-linecap: square"/>
     </g>
     <g id="text_17">
      <text style="font-size: 10px; font-family: 'DejaVu Sans', 'Liberation Sans', sans-serif; white-space: pre; text-anchor: start" x="261.158327" y="49.520597" transform="rotate(0 261.158327 49.520597)">90</text>
     </g>
    </g>
   </g>
   <g id="patch_16">
    <path d="M 210.24 41.472 
C 192.767246 41.472 175.464393 44.913752 159.321673 51.600285 
C 143.178954 58.286818 128.510303 68.088097 116.1552 80.4432 
C 103.800097 92.798303 93.998818 107.466954 87.312285 123.609673 
C 80.625752 139.752393 77.184 157.055246 77.184 174.528 
C 77.184 192.000754 80.625752 209.303607 87.312285 225.446327 
C 93.998818 241.589046 103.800097 256.257697 116.1552 268.6128 
C 128.510303 280.967903 143.178954 290.769182 159.321673 297.455715 
C 175.464393 304.142248 192.767246 307.584 210.24 307.584 
C 227.712754 307.584 245.015607 304.142248 261.158327 297.455715 
C 277.301046 290.769182 291.969697 280.967903 304.3248 268.6128 
C 316.679903 256.257697 326.481182 241.589046 333.167715 225.446327 
C 339.854248 209.303607 343.296 192.000754 343.296 174.528 
C 343.296 157.055246 339.854248 139.752393 333.167715 123.609673 
C 326.481182 107.466954 316.679903 92.798303 304.3248 80.4432 
C 291.969697 68.088097 277.301046 58.286818 261.158327 51.600285 
C 245.015607 44.913752 227.712754 41.472 210.24 41.472 
" style="fill: none; stroke: #000000; stroke-width: 0.8; stroke-linejoin: miter; stroke-linecap: square"/>
   </g>
   <g id="text_18">
    <text style="font-size: 12px; font-family: 'DejaVu Sans', 'Liberation Sans', sans-serif; white-space: pre; text-anchor: middle" x="210.24" y="16.632938" transform="rotate(0 210.24 16.632938)">Delta Antenna Phase Biases: GNNMACH2        NONE BeiDOU-E1</text>
   </g>
  </g>
  <g id="axes_2" transform="translate(0.6 0.36)">
   <g id="patch_17">
    <path d="M 361.152 307.584 
L 374.4576 307.584 
L 374.4576 41.472 
L 361.152 41.472 
z
" style="fill: #ffffff"/>
   </g>
   <g id="QuadMesh_1" shape-rendering="crispEdges" transform="translate(0 -0.36)">
    <path d="M 361.152 307.584 
L 374.4576 307.584 
L 374.4576 280.9728 
L 361.152 280.9728 
L 361.152 307.584 
" clip-path="url(#p146c9004c4)" style="fill: #471365"/>
    <path d="M 361.152 280.9728 
L 374.4576 280.9728 
L 374.4576 254.3616 
L 361.152 254.3616 
L 361.152 280.9728 
" clip-path="url(#p146c9004c4)" style="fill: #463480"/>
    <path d="M 361.152 254.3616 
L 374.4576 254.3616 
L 374.4576 227.7504 
L 361.152 227.7504 
L 361.152 254.3616 
" clip-path="url(#p146c9004c4)" style="fill: #3b528b"/>
    <path d="M 361.152 227.7504 
L 374.4576 227.7504 
L 374.4576 201.1392 
L 361.152 201.1392 
L 361.152 227.7504 
" clip-path="url(#p146c9004c4)" style="fill: #2f6c8e"/>
    <path d="M 361.152 201.1392 
L 374.4576 201.1392 
L 374.4576 174.528 
L 361.152 174.528 
L 361.152 201.1392 
" clip-path="url(#p146c9004c4)" style="fill: #25848e"/>
    <path d="M 361.152 174.528 
L 374.4576 174.528 
L 374.4576 147.9168 
L 361.152 147.9168 
L 361.152 174.528 
" clip-path="url(#p146c9004c4)" style="fill: #1e9c89"/>
    <path d="M 361.152 147.9168 
L 374.4576 147.9168 
L 374.4576 121.3056 
L 361.152 121.3056 
L 361.152 147.9168 
" clip-path="url(#p146c9004c4)" style="fill: #2fb47c"/>
    <path d="M 361.152 121.3056 
L 374.4576 121.3056 
L 374.4576 94.6944 
L 361.152 94.6944 
L 361.152 121.3056 
" clip-path="url(#p146c9004c4)" style="fill: #5ec962"/>
    <path d="M 361.152 94.6944 
L 374.4576 94.6944 
L 374.4576 68.0832 
L 361.152 68.0832 
L 361.152 94.6944 
" clip-path="url(#p146c9004c4)" style="fill: #9bd93c"/>
    <path d="M 361.152 68.0832 
L 374.4576 68.0832 
L 374.4576 41.472 
L 361.152 41.472 
L 361.152 68.0832 
" clip-path="url(#p146c9004c4)" style="fill: #dfe318"/>
   </g>
   <g id="matplotlib.axis_3"/>
   <g id="matplotlib.axis_4">
    <g id="ytick_10">
     <g id="line2d_18" shape-rendering="crispEdges">
      <defs>
       <path id="m38b9c809f0" d="M 0 0 
L 3.5 0 
" style="stroke: #000000; stroke-width: 0.8"/>
      </defs>
      <g>
       <use href="#m38b9c809f0" x="374.4576" y="280.9728" style="stroke: #000000; stroke-width: 0.8"/>
      </g>
     </g>
     <g id="text_19">
      <text style="font-size: 10px; font-family: 'DejaVu Sans', 'Liberation Sans', sans-serif; white-space: pre; text-anchor: start" x="381.4576" y="284.772019" transform="rotate(0 381.4576 284.772019)">−4</text>
     </g>
    </g>
    <g id="ytick_11">
     <g id="line2d_19" shape-rendering="crispEdges">
      <g>
       <use href="#m38b9c809f0" x="374.4576" y="227.7504" style="stroke: #000000; stroke-width: 0.8"/>
      </g>
     </g>
     <g id="text_20">
      <text style="font-size: 10px; font-family: 'DejaVu Sans', 'Liberation Sans', sans-serif; white-space: pre; text-anchor: start" x="381.4576" y="231.549619" transform="rotate(0 381.4576 231.549619)">−2</text>
     </g>
    </g>
    <g id="ytick_12">
     <g id="line2d_20" shape-rendering="crispEdges">
      <g>
       <use href="#m38b9c809f0" x="374.4576" y="174.528" style="stroke: #000000; stroke-width: 0.8"/>
      </g>
     </g>
     <g id="text_21">
      <text style="font-size: 10px; font-family: 'DejaVu Sans', 'Liberation Sans', sans-serif; white-space: pre; text-anchor: start" x="381.4576" y="178.327219" transform="rotate(0 381.4576 178.327219)">0</text>
     </g>
    </g>
    <g id="ytick_13">
     <g id="line2d_21" shape-rendering="crispEdges">
      <g>
       <use href="#m38b9c809f0" x="374.4576" y="121.3056" style="stroke: #000000; stroke-width: 0.8"/>
      </g>
     </g>
     <g id="text_22">
      <text style="font-size: 10px; font-family: 'DejaVu Sans', 'Liberation Sans', sans-serif; white-space: pre; text-anchor: start" x="381.4576" y="125.104819" transform="rotate(0 381.4576 125.104819)">2</text>
     </g>
    </g>
    <g id="ytick_14">
     <g id="line2d_22" shape-rendering="crispEdges">
      <g>
       <use href="#m38b9c809f0" x="374.4576" y="68.0832" style="stroke: #000000; stroke-width: 0.8"/>
      </g>
     </g>
     <g id="text_23">
      <text style="font-size: 10px; font-family: 'DejaVu Sans', 'Liberation Sans', sans-serif; white-space: pre; text-anchor: start" x="381.4576" y="71.882419" transform="rotate(0 381.4576 71.882419)">4</text>
     </g>
    </g>
    <g id="text_24">
     <text style="font-size: 10px; font-family: 'DejaVu Sans', 'Liberation Sans', sans-serif; white-space: pre; text-anchor: middle" x="407.15" y="174.3" transform="rotate(-90 407.15 174.3)">Bias (mm)</text>
    </g>
   </g>
   <g id="LineCollection_1"/>
   <g id="patch_18" shape-rendering="crispEdges">
    <path d="M 361.152 307.584 
L 367.8048 307.584 
L 374.4576 307.584 
L 374.4576 41.472 
L 367.8048 41.472 
L 361.152 41.472 
L 361.152 307.584 
z
" style="fill: none; stroke: #000000; stroke-width: 0.8; stroke-linejoin: miter; stroke-linecap: square"/>
   </g>
  </g>
 </g>
 <defs>
  <clipPath id="p4fdef0c23c">
   <path d="M 343.296 174.528 
C 343.296 157.055246 339.854248 139.752393 333.167715 123.609673 
C 326.481182 107.466954 316.679903 92.798303 304.3248 80.4432 
C 291.969697 68.088097 277.301046 58.286818 261.158327 51.600285 
C 245.015607 44.913752 227.712754 41.472 210.24 41.472 
C 192.767246 41.472 175.464393 44.913752 159.321673 51.600285 
C 143.178954 58.286818 128.510303 68.088097 116.1552 80.4432 
C 103.800097 92.798303 93.998818 107.466954 87.312285 123.609673 
C 80.625752 139.752393 77.184 157.055246 77.184 174.528 
C 77.184 192.000754 80.625752 209.303607 87.312285 225.446327 
C 93.998818 241.589046 103.800097 256.257697 116.1552 268.6128 
C 128.510303 280.967903 143.178954 290.769182 159.321673 297.455715 
C 175.464393 304.142248 192.767246 307.584 210.24 307.584 
C 227.712754 307.584 245.015607 304.142248 261.158327 297.455715 
C 277.301046 290.769182 291.969697 280.967903 304.3248 268.6128 
C 316.679903 256.257697 326.481182 241.589046 333.167715 225.446327 
C 339.854248 209.303607 343.296 192.000754 343.296 174.528 
M 210.24 174.528 
C 210.24 174.528 210.24 174.528 210.24 174.528 
C 210.24 174.528 210.24 174.528 210.24 174.528 
C 210.24 174.528 210.24 174.528 210.24 174.528 
C 210.24 174.528 210.24 174.528 210.24 174.528 
C 210.24 174.528 210.24 174.528 210.24 174.528 
C 210.24 174.528 210.24 174.528 210.24 174.528 
C 210.24 174.528 210.24 174.528 210.24 174.528 
C 210.24 174.528 210.24 174.528 210.24 174.528 
C 210.24 174.528 210.24 174.528 210.24 174.528 
C 210.24 174.528 210.24 174.528 210.24 174.528 
C 210.24 174.528 210.24 174.528 210.24 174.528 
C 210.24 174.528 210.24 174.528 210.24 174.528 
C 210.24 174.528 210.24 174.528 210.24 174.528 
C 210.24 174.528 210.24 174.528 210.24 174.528 
C 210.24 174.528 210.24 174.528 210.24 174.528 
C 210.24 174.528 210.24 174.528 210.24 174.528 
z
"/>
  </clipPath>
  <clipPath id="p146c9004c4">
   <rect x="361.152" y="41.472" width="13.3056" height="266.112"/>
  </clipPath>
 </defs>
</svg>

</body></html>
